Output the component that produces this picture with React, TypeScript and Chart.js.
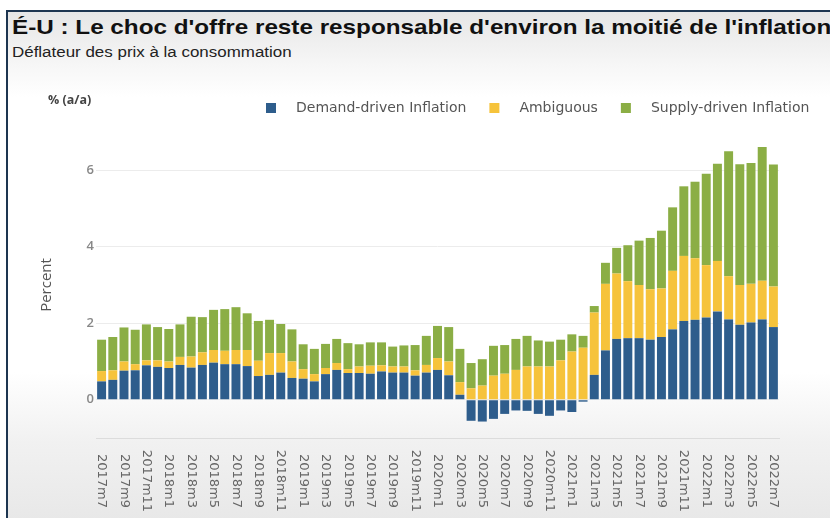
import React, { useEffect, useRef } from "react";
import { Chart, registerables } from "chart.js";

Chart.register(...registerables);

const categories: string[] = [
  "2017m7", "2017m8", "2017m9", "2017m10", "2017m11", "2017m12",
  "2018m1", "2018m2", "2018m3", "2018m4", "2018m5", "2018m6",
  "2018m7", "2018m8", "2018m9", "2018m10", "2018m11", "2018m12",
  "2019m1", "2019m2", "2019m3", "2019m4", "2019m5", "2019m6",
  "2019m7", "2019m8", "2019m9", "2019m10", "2019m11", "2019m12",
  "2020m1", "2020m2", "2020m3", "2020m4", "2020m5", "2020m6",
  "2020m7", "2020m8", "2020m9", "2020m10", "2020m11", "2020m12",
  "2021m1", "2021m2", "2021m3", "2021m4", "2021m5", "2021m6",
  "2021m7", "2021m8", "2021m9", "2021m10", "2021m11", "2021m12",
  "2022m1", "2022m2", "2022m3", "2022m4", "2022m5", "2022m6",
  "2022m7",
];

const tickLabels: string[] = [
  "2017m7", "2017m9", "2017m11", "2018m1", "2018m3", "2018m5", "2018m7",
  "2018m9", "2018m11", "2019m1", "2019m3", "2019m5", "2019m7", "2019m9",
  "2019m11", "2020m1", "2020m3", "2020m5", "2020m7", "2020m9", "2020m11",
  "2021m1", "2021m3", "2021m5", "2021m7", "2021m9", "2021m11", "2022m1",
  "2022m3", "2022m5", "2022m7",
];

const demand: number[] = [
  0.48, 0.52, 0.76, 0.77, 0.90, 0.86, 0.83, 0.91, 0.84, 0.91, 0.97, 0.93,
  0.93, 0.88, 0.62, 0.65, 0.71, 0.57, 0.55, 0.48, 0.67, 0.78, 0.70, 0.70,
  0.68, 0.74, 0.71, 0.71, 0.63, 0.71, 0.78, 0.64, 0.13, -0.55, -0.57, -0.50,
  -0.37, -0.28, -0.29, -0.37, -0.42, -0.28, -0.32, -0.05, 0.65, 1.29, 1.59, 1.61,
  1.61, 1.57, 1.64, 1.84, 2.06, 2.09, 2.15, 2.31, 2.10, 1.96, 2.02, 2.10,
  1.90,
];

const ambiguous: number[] = [
  0.27, 0.25, 0.24, 0.16, 0.13, 0.17, 0.17, 0.21, 0.29, 0.33, 0.33, 0.35,
  0.37, 0.42, 0.40, 0.57, 0.51, 0.43, 0.25, 0.19, 0.16, 0.18, 0.10, 0.17,
  0.21, 0.16, 0.16, 0.16, 0.14, 0.20, 0.31, 0.36, 0.33, 0.30, 0.37, 0.63,
  0.68, 0.78, 0.87, 0.87, 0.87, 1.03, 1.26, 1.36, 1.63, 1.74, 1.71, 1.49,
  1.39, 1.32, 1.27, 1.53, 1.70, 1.61, 1.37, 1.32, 1.13, 1.04, 1.01, 1.01,
  1.06,
];

const supply: number[] = [
  0.82, 0.87, 0.89, 0.90, 0.94, 0.87, 0.85, 0.85, 1.04, 0.92, 1.05, 1.09,
  1.12, 0.96, 1.04, 0.87, 0.76, 0.84, 0.65, 0.66, 0.63, 0.63, 0.68, 0.58,
  0.61, 0.60, 0.52, 0.55, 0.66, 0.76, 0.84, 0.90, 0.87, 0.66, 0.69, 0.78,
  0.75, 0.81, 0.80, 0.68, 0.65, 0.54, 0.45, 0.31, 0.17, 0.55, 0.67, 0.94,
  1.16, 1.34, 1.51, 1.66, 1.82, 2.00, 2.39, 2.54, 3.27, 3.16, 3.16, 3.50,
  3.19,
];

const seriesNames: string[] = ["Demand-driven Inflation", "Ambiguous", "Supply-driven Inflation"];
const seriesColors: string[] = ["#2e5d8c", "#f6c33b", "#8bae45"];
const yTicks: number[] = [0, 2, 4, 6];

const overlayPlugin = {
  id: "overlay",
  afterDraw(chart: any) {
    const ctx = chart.ctx as CanvasRenderingContext2D;
    const xs = chart.scales.x;
    const area = chart.chartArea;
    ctx.save();

    // rotated x labels (clockwise)
    ctx.font = '13px "DejaVu Sans"';
    ctx.fillStyle = "#666";
    ctx.textAlign = "center";
    ctx.textBaseline = "middle";
    categories.forEach((lab, i) => {
      if (!tickLabels.includes(lab)) return;
      const x = xs.getPixelForValue(i);
      ctx.save();
      ctx.translate(x, area.bottom + 43);
      ctx.rotate(Math.PI / 2);
      ctx.fillText(lab, 0, 0);
      ctx.restore();
    });

    // y axis title
    ctx.save();
    ctx.font = '15px "Open Sans"';
    ctx.fillStyle = "#555";
    ctx.translate(47, 285);
    ctx.rotate(-Math.PI / 2);
    ctx.fillText("Percent", 0, 0);
    ctx.restore();

    // unit label
    ctx.font = 'bold 12.5px "Open Sans"';
    ctx.fillStyle = "#444";
    ctx.textAlign = "left";
    ctx.fillText("% (a/a)", 48, 100);

    // legend
    ctx.font = '14px "DejaVu Sans"';
    let lx = 266;
    const ly = 108;
    chart.data.datasets.forEach((ds: any) => {
      ctx.fillStyle = ds.backgroundColor;
      ctx.fillRect(lx, ly - 5, 10, 10);
      ctx.fillStyle = "#555";
      ctx.textAlign = "left";
      ctx.fillText(ds.label, lx + 30, ly);
      lx += 30 + ctx.measureText(ds.label).width + 23;
    });

    ctx.restore();
  },
};

export default function App() {
  const canvasRef = useRef<HTMLCanvasElement | null>(null);

  useEffect(() => {
    document.body.style.margin = "0";
    const canvas = canvasRef.current;
    if (!canvas) return;
    const datasets = [demand, ambiguous, supply].map((data, i) => ({
      label: seriesNames[i],
      data,
      backgroundColor: seriesColors[i],
      borderWidth: 0,
      barPercentage: 0.8,
      categoryPercentage: 1.0,
    }));
    const chart = new Chart(canvas, {
      type: "bar",
      data: { labels: categories, datasets },
      options: {
        responsive: false,
        animation: false,
        devicePixelRatio: 1,
        layout: { padding: { left: 0, right: 51, top: 132, bottom: 80 } },
        plugins: {
          legend: { display: false },
          tooltip: { enabled: false },
          title: { display: false },
        },
        scales: {
          x: {
            stacked: true,
            offset: true,
            ticks: { display: false },
            grid: { display: true, color: "rgba(0,0,0,0)", drawTicks: false },
            border: { display: true, color: "#dcdcdc", width: 1 },
          },
          y: {
            stacked: true,
            min: -1,
            max: 7,
            afterBuildTicks: (axis: any) => {
              axis.ticks = yTicks.map((v) => ({ value: v }));
            },
            afterFit: (axis: any) => {
              axis.width = 96;
            },
            ticks: {
              color: "#888",
              padding: 2,
              font: { family: "Open Sans", size: 13, weight: "600" },
            },
            grid: { color: "#ececec", drawTicks: false, lineWidth: 1 },
            border: { display: false },
          },
        },
      },
      plugins: [overlayPlugin],
    });
    return () => chart.destroy();
  }, []);

  return (
    <div
      style={{
        position: "fixed",
        left: 0,
        top: 0,
        width: 830,
        height: 518,
        background: "#ffffff",
        overflow: "hidden",
      }}
    >
      <div
        style={{
          position: "absolute",
          left: 6,
          top: 10,
          right: 0,
          bottom: 0,
          borderLeft: "2px solid #1d3550",
          borderTop: "2px solid #1d3550",
          background:
            "linear-gradient(to bottom, #e6e6e6 0px, #f7f7f7 55px, #ffffff 85px, #ffffff 360px, #f1f1f1 430px, #e8e8e8 508px)",
        }}
      />
      <div
        style={{
          position: "absolute",
          left: 12,
          top: 14,
          fontFamily: '"Liberation Sans", Arial, sans-serif',
          fontWeight: "bold",
          fontSize: 21,
          color: "#111",
          whiteSpace: "nowrap",
          lineHeight: "26px",
          transform: "scaleX(1.155)",
          transformOrigin: "left top",
        }}
      >
        É-U : Le choc d'offre reste responsable d'environ la moitié de l'inflation
      </div>
      <div
        style={{
          position: "absolute",
          left: 12,
          top: 43,
          fontFamily: '"Liberation Sans", Arial, sans-serif',
          fontSize: 14,
          color: "#222",
          whiteSpace: "nowrap",
          lineHeight: "18px",
          transform: "scaleX(1.21)",
          transformOrigin: "left top",
        }}
      >
        Déflateur des prix à la consommation
      </div>
      <canvas
        ref={canvasRef}
        width={830}
        height={518}
        style={{ position: "absolute", left: 0, top: 0, width: 830, height: 518 }}
      />
    </div>
  );
}
